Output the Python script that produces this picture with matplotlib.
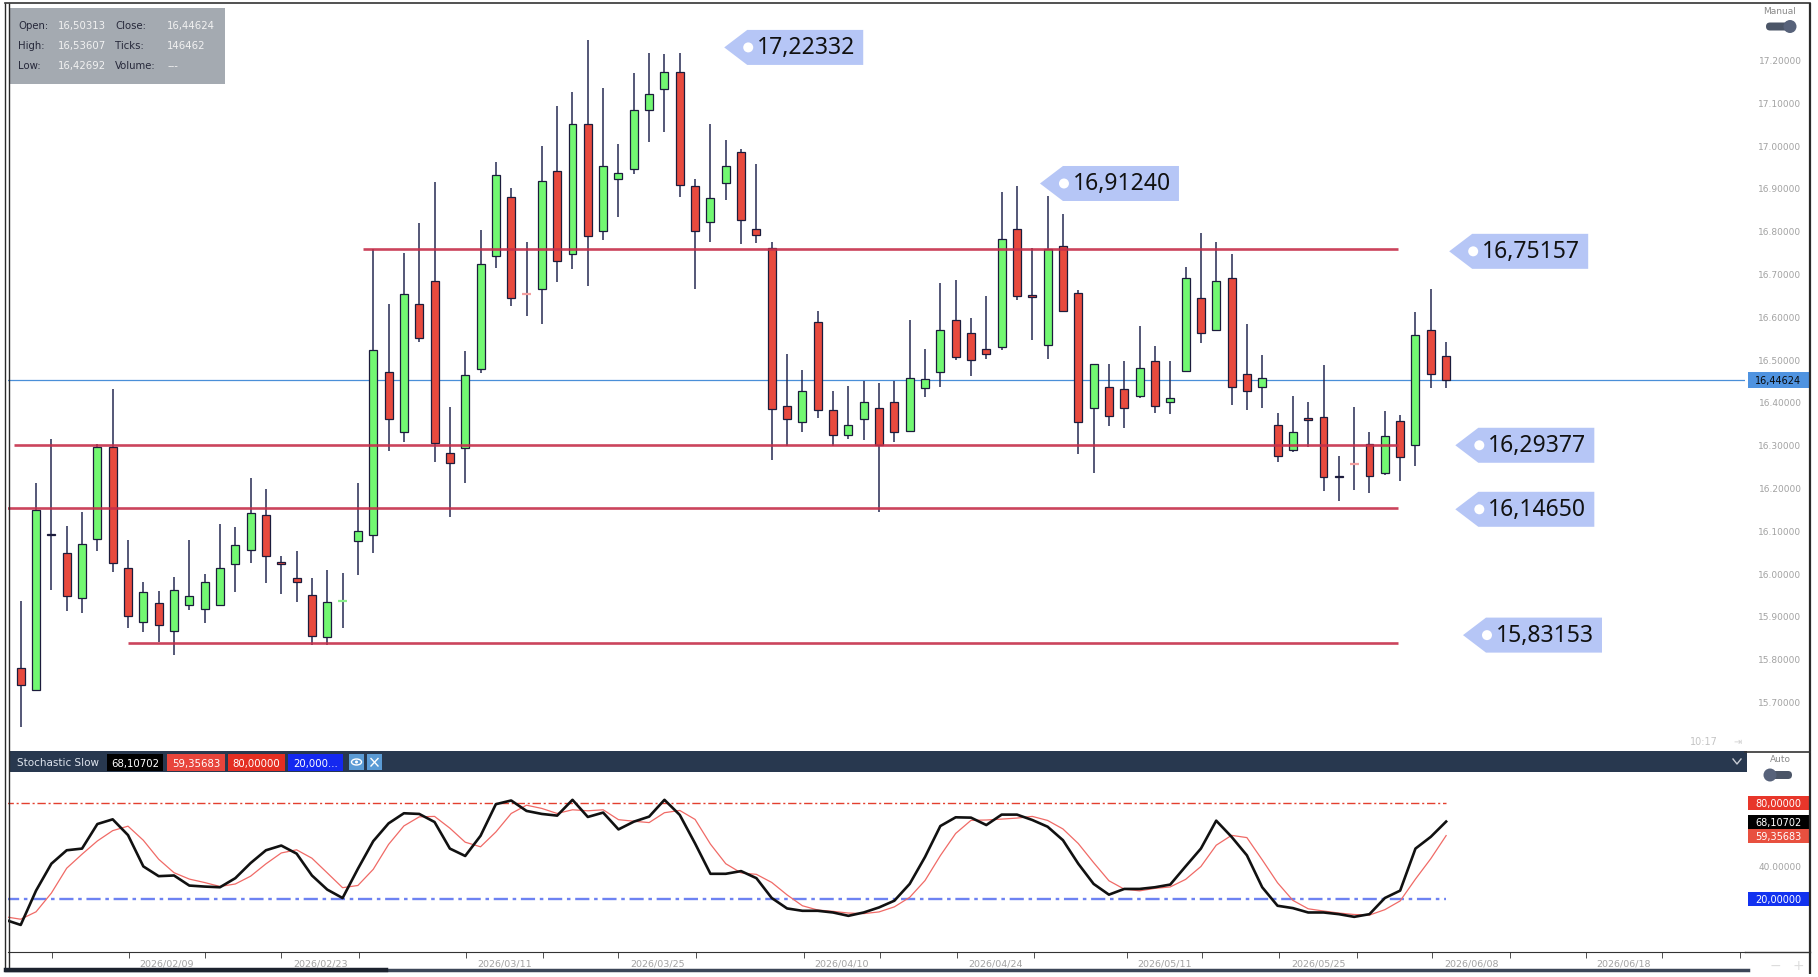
import numpy as np
import matplotlib.pyplot as plt
from matplotlib.patches import Rectangle, Polygon, Ellipse, FancyBboxPatch
from matplotlib.transforms import blended_transform_factory

# ---- daily candles (index 0 .. 93) ----
opens = [15.773, 15.721, 16.086, 16.042, 15.936, 16.074, 16.289, 16.008, 15.880, 15.925,
         15.861, 15.921, 15.912, 15.921, 16.016, 16.048, 16.132, 16.022, 15.984, 15.945,
         15.845, 15.931, 16.069, 16.083, 16.466, 16.324, 16.623, 16.678, 16.275, 16.287,
         16.472, 16.735, 16.875, 16.647, 16.660, 16.934, 16.740, 17.044, 16.794, 16.916,
         16.939, 17.076, 17.127, 17.165, 16.899, 16.815, 16.906, 16.978, 16.799, 16.755,
         16.385, 16.349, 16.582, 16.376, 16.318, 16.354, 16.382, 16.396, 16.326, 16.428,
         16.464, 16.586, 16.555, 16.519, 16.524, 16.800, 16.646, 16.529, 16.759, 16.649,
         16.380, 16.431, 16.425, 16.410, 16.490, 16.396, 16.468, 16.638, 16.562, 16.685,
         16.461, 16.431, 16.340, 16.282, 16.3575, 16.360, 16.2225, 16.250, 16.297, 16.228,
         16.351, 16.294, 16.562, 16.50313]
highs = [15.931, 16.206, 16.308, 16.105, 16.137, 16.296, 16.425, 16.072, 15.974, 15.953,
         15.987, 16.072, 15.993, 16.110, 16.103, 16.217, 16.191, 16.036, 16.047, 15.983,
         16.002, 15.995, 16.206, 16.752, 16.624, 16.742, 16.812, 16.910, 16.384, 16.513,
         16.797, 16.955, 16.896, 16.768, 16.993, 17.087, 17.118, 17.241, 17.128, 16.997,
         17.163, 17.210, 17.209, 17.210, 16.915, 17.044, 17.006, 16.986, 16.950, 16.768,
         16.507, 16.470, 16.607, 16.420, 16.432, 16.445, 16.439, 16.445, 16.587, 16.518,
         16.673, 16.680, 16.592, 16.643, 16.886, 16.900, 16.755, 16.876, 16.834, 16.657,
         16.483, 16.484, 16.490, 16.572, 16.525, 16.491, 16.710, 16.790, 16.769, 16.741,
         16.576, 16.505, 16.370, 16.410, 16.396, 16.482, 16.269, 16.383, 16.325, 16.374,
         16.365, 16.605, 16.659, 16.53607]
lows = [15.636, 15.721, 15.956, 15.907, 15.903, 16.046, 15.997, 15.867, 15.858, 15.833,
        15.804, 15.910, 15.878, 15.920, 15.952, 16.018, 15.972, 15.947, 15.927, 15.826,
        15.828, 15.867, 15.991, 16.042, 16.280, 16.302, 16.534, 16.254, 16.127, 16.205,
        16.463, 16.707, 16.618, 16.595, 16.576, 16.676, 16.706, 16.667, 16.774, 16.826,
        16.927, 17.003, 17.025, 16.875, 16.660, 16.768, 16.867, 16.763, 16.766, 16.259,
        16.291, 16.324, 16.358, 16.293, 16.308, 16.306, 16.139, 16.302, 16.326, 16.407,
        16.431, 16.492, 16.455, 16.495, 16.517, 16.633, 16.539, 16.496, 16.607, 16.274,
        16.228, 16.338, 16.333, 16.405, 16.369, 16.366, 16.468, 16.532, 16.562, 16.389,
        16.377, 16.382, 16.255, 16.277, 16.290, 16.188, 16.164, 16.190, 16.183, 16.224,
        16.210, 16.245, 16.428, 16.42692]
closes = [15.734, 16.143, 16.083, 15.941, 16.062, 16.289, 16.019, 15.896, 15.952, 15.874,
          15.956, 15.941, 15.975, 16.008, 16.060, 16.136, 16.036, 16.016, 15.974, 15.849,
          15.928, 15.9311, 16.093, 16.516, 16.355, 16.647, 16.544, 16.300, 16.252, 16.459,
          16.717, 16.925, 16.637, 16.6469, 16.912, 16.724, 17.044, 16.782, 16.946, 16.930,
          17.078, 17.114, 17.167, 16.903, 16.794, 16.871, 16.946, 16.819, 16.784, 16.379,
          16.355, 16.421, 16.376, 16.318, 16.340, 16.396, 16.294, 16.324, 16.450, 16.448,
          16.562, 16.499, 16.492, 16.507, 16.775, 16.643, 16.640, 16.752, 16.607, 16.349,
          16.483, 16.363, 16.382, 16.475, 16.385, 16.405, 16.685, 16.555, 16.677, 16.430,
          16.421, 16.450, 16.269, 16.324, 16.3535, 16.219, 16.2185, 16.2499, 16.221, 16.315,
          16.266, 16.552, 16.461, 16.44624]

# ---- stochastic slow, starts one bar before the first candle (index -1 .. 93) ----
stoch_k = [6.79, 3.64, 25.04, 41.82, 50.21, 51.26, 66.57, 69.51, 59.65, 40.14,
           34.06, 34.48, 28.19, 27.56, 27.14, 32.80, 42.24, 50.21, 53.15, 48.11,
           34.48, 25.67, 20.42, 38.67, 55.88, 66.99, 73.29, 72.87, 67.83, 51.26,
           46.65, 59.23, 78.95, 81.26, 74.76, 72.87, 71.82, 81.68, 70.98, 73.71,
           63.22, 68.04, 71.19, 81.68, 72.24, 54.41, 35.53, 35.53, 37.21, 32.80,
           20.42, 13.92, 12.45, 12.45, 11.40, 9.31, 11.40, 14.55, 18.75, 29.23,
           46.02, 65.32, 70.77, 70.56, 65.95, 72.45, 72.45, 69.09, 64.90, 56.50,
           41.82, 29.23, 22.52, 26.09, 26.09, 27.14, 28.81, 40.14, 51.26, 68.67,
           58.60, 47.07, 27.14, 15.60, 14.13, 11.40, 11.40, 10.35, 8.68, 10.35,
           20.42, 25.04, 51.26, 58.60, 68.10702]
stoch_d = [8.70, 7.20, 11.82, 23.50, 39.02, 47.76, 56.01, 62.45, 65.24, 56.43,
           44.62, 36.23, 32.24, 30.08, 27.63, 29.17, 34.06, 41.75, 48.53, 50.49,
           45.25, 36.09, 26.86, 28.25, 38.32, 53.85, 65.39, 71.05, 71.33, 63.99,
           55.25, 52.38, 61.61, 73.15, 78.32, 76.30, 73.15, 75.46, 74.83, 75.46,
           69.30, 68.32, 67.48, 73.64, 75.04, 69.44, 54.06, 41.82, 36.09, 35.18,
           30.14, 22.38, 15.60, 12.94, 12.10, 11.05, 10.70, 11.75, 14.90, 20.84,
           31.33, 46.86, 60.70, 68.88, 69.09, 69.65, 70.28, 71.33, 68.81, 63.50,
           54.41, 42.52, 31.19, 25.95, 24.90, 26.44, 27.35, 32.03, 40.07, 53.36,
           59.51, 58.11, 44.27, 29.94, 18.96, 13.71, 12.31, 11.05, 10.14, 9.79,
           13.15, 18.60, 32.24, 44.97, 59.35683]

# ---- drawn levels and price callouts ----
levels = [16.75157, 16.29377, 16.14650, 15.83153]
level_from = [22.3, -0.45, -1.0, 7.0]
level_to = 89.85
callouts = [17.22332, 16.91240, 16.75157, 16.29377, 16.14650, 15.83153]
callout_x = [45.9, 66.5, 93.2, 93.6, 93.6, 94.1]
callout_dy = [0, 3, 2, 0, 1, -8]   # pixel nudges of the callout boxes

price_ticks = [15.7, 15.8, 15.9, 16.0, 16.1, 16.2, 16.3, 16.4, 16.5, 16.6,
               16.7, 16.8, 16.9, 17.0, 17.1, 17.2]
tick_idx = [2.04, 7.07, 12.0, 17.0, 22.1, 29.05, 34.07, 39.0, 44.05, 51.1, 56.05,
            61.1, 66.1, 72.2, 77.1, 82.1, 87.2, 92.1, 97.2, 102.1, 107.1, 112.2]
date_labels = ['2026/02/09', '2026/02/23', '2026/03/11', '2026/03/25', '2026/04/10',
               '2026/04/24', '2026/05/11', '2026/05/25', '2026/06/08', '2026/06/18']

W, H = 1818, 978
UP, DN, EDGE, WICK = '#72f872', '#e84a3e', '#1c1c3c', '#262a52'
GREY = '#a2a2a2'


def frac(l, t, r, b):
    return [l / W, 1 - b / H, (r - l) / W, (b - t) / H]


def fmt(v):
    return f'{v:.5f}'.replace('.', ',')


fig = plt.figure(figsize=(W / 100, H / 100), dpi=100)
fig.patch.set_facecolor('white')

ax = fig.add_axes(frac(8, 4, 1745, 751))
st = fig.add_axes(frac(8, 773, 1745, 953))
xlim = (-0.83, 112.5)
ylim = (15.5818, 17.3271)
ax.set_xlim(*xlim)
ax.set_ylim(*ylim)
ppx = 1737 / (xlim[1] - xlim[0])
ppy = 747 / (ylim[1] - ylim[0])
for s in ax.spines.values():
    s.set_visible(False)
ax.set_xticks([])
ax.set_yticks([])

# candles
for i, (o, h, l, c) in enumerate(zip(opens, highs, lows, closes)):
    ax.vlines(i, l, h, color=WICK, lw=1.1, zorder=2)
    if abs(c - o) < 0.0005:
        ax.hlines(o, i - 0.3, i + 0.3, color='#8af08a' if c > o else '#f3a0a0', lw=1.6, zorder=3)
    else:
        ax.bar(i, abs(c - o), 0.52, bottom=min(o, c), color=UP if c > o else DN,
               edgecolor=EDGE, lw=0.9, zorder=3)

ax.axhline(closes[-1], color='#4a8fd8', lw=0.9, zorder=1)
ax.hlines(levels, level_from, level_to, color='#c62f4a', lw=1.9, alpha=0.9, zorder=4)

# callouts
for p, xt, dy in zip(callouts, callout_x, callout_dy):
    hx = lambda px: px / ppx
    hy = 17.5 / ppy
    yc = p - dy / ppy
    poly = [(xt, yc), (xt + hx(23), yc + hy), (xt + hx(139), yc + hy),
            (xt + hx(139), yc - hy), (xt + hx(23), yc - hy)]
    ax.add_patch(Polygon(poly, closed=True, fc='#b6c6f6', ec='none', zorder=5, clip_on=False))
    ax.add_patch(Ellipse((xt + hx(24), yc), hx(10), 10 / ppy, fc='white', ec='none', zorder=6))
    ax.text(xt + hx(33), yc, fmt(p), fontsize=16.5, family='Noto Sans', color='#111111',
            va='center', ha='left', zorder=7)

# right price scale
tr = blended_transform_factory(ax.transAxes, ax.transData)
for v in price_ticks:
    ax.text((1780 - 8) / 1737, v - 3 / ppy, f'{v:.5f}', transform=tr, fontsize=6.5,
            color=GREY, ha='center', va='center', clip_on=False)
bx0 = (1748 - 8) / 1737
bw = 61 / 1737
ax.add_patch(Rectangle((bx0, closes[-1] - 8 / ppy), bw, 16 / ppy, transform=tr,
                       fc='#4f93e0', ec='none', clip_on=False))
ax.text(bx0 + bw / 2, closes[-1], fmt(closes[-1]), transform=tr, fontsize=7,
        color='#0a0a0a', ha='center', va='center', clip_on=False)

# stochastic panel
sylim = (-13.25, 99.03)
st.set_xlim(*xlim)
st.set_ylim(*sylim)
sppy = 180 / (sylim[1] - sylim[0])
xs = np.arange(-1, len(closes))
st.hlines(80, -1, len(closes) - 1, color='#e3402f', lw=1.0, linestyles=(0, (6, 2, 1.5, 2)))
st.hlines(20, -1, len(closes) - 1, color='#6d82f2', lw=1.7, linestyles=(0, (6, 2, 1.5, 2)))
st.plot(xs, stoch_d, color='#f06a66', lw=0.9)
st.plot(xs, stoch_k, color='#111111', lw=1.9)
for s in ['top', 'left', 'right']:
    st.spines[s].set_visible(False)
st.spines['bottom'].set_color('#333333')
st.set_yticks([])
st.set_xticks(tick_idx, minor=True)
label_pos = [(a + b) / 2 for a, b in zip(tick_idx[1::2], tick_idx[2::2])]
st.set_xticks(label_pos, date_labels)
st.tick_params(axis='x', which='major', length=0, pad=5, labelsize=6.8, labelcolor=GREY)
st.tick_params(axis='x', which='minor', length=4, color='#333333')

str_ = blended_transform_factory(st.transAxes, st.transData)
for v, fc, txt in [(80, '#e8362a', '80,00000'), (stoch_k[-1], '#000000', fmt(stoch_k[-1])),
                   (stoch_d[-1], '#e8503f', fmt(stoch_d[-1])), (20, '#1232f0', '20,00000')]:
    st.add_patch(Rectangle((bx0, v - 7 / sppy), bw, 14 / sppy, transform=str_,
                           fc=fc, ec='none', clip_on=False))
    st.text(bx0 + bw / 2, v, txt, transform=str_, fontsize=7, color='white',
            ha='center', va='center', clip_on=False)
st.text((1780 - 8) / 1737, 40, '40.00000', transform=str_, fontsize=6.5, color=GREY,
        ha='center', va='center', clip_on=False)

# frame, header bar and info box in pixel coordinates
ov = fig.add_axes([0, 0, 1, 1], zorder=10)
ov.set_xlim(0, W)
ov.set_ylim(H, 0)
ov.axis('off')
ov.plot([5, 1810], [4, 4], color='#333333', lw=1.2)
ov.vlines([5, 8.5], 4, 972, color='#2a2a2a', lw=1.0)
ov.vlines(1809.5, 4, 975, color='#2a2a2a', lw=1.6)
ov.plot([1745, 1810], [752.5, 752.5], color='#333333', lw=1.2)
ov.plot([1745, 1810], [953, 953], color='#333333', lw=1.0)
ov.plot([6, 1748], [971, 971], color='#3c4658', lw=2.5)
ov.plot([6, 386], [971, 971], color='#1c222e', lw=3.2)

ov.add_patch(Rectangle((8.5, 752), 1738, 21, fc='#28384f', ec='none'))
ov.text(17, 763, 'Stochastic Slow', fontsize=7.5, color='#dfe5ee', va='center')
badges = [(107, 163, '#000000', fmt(stoch_k[-1])), (167, 225, '#e8453c', fmt(stoch_d[-1])),
          (228, 285, '#e42e22', '80,00000'), (288, 343, '#1428f0', '20,000...')]
for x0, x1, fc, txt in badges:
    ov.add_patch(Rectangle((x0, 755), x1 - x0, 17, fc=fc, ec='none'))
    ov.text((x0 + x1) / 2, 763.5, txt, fontsize=7.3, color='white', ha='center', va='center')
for x0 in (349, 367):
    ov.add_patch(Rectangle((x0, 755), 15, 16, fc='#5b9bd5', ec='none'))
ov.add_patch(Ellipse((356.5, 763), 10, 6, fc='none', ec='white', lw=1))
ov.add_patch(Ellipse((356.5, 763), 3, 3, fc='white', ec='none'))
ov.plot([371, 378], [759.5, 767], color='white', lw=1)
ov.plot([371, 378], [767, 759.5], color='white', lw=1)
ov.plot([1733, 1737, 1741], [760, 765, 760], color='#c8ccd4', lw=1)

ov.add_patch(Rectangle((8.5, 9), 216, 76, fc='#a4aab1', ec='none'))
info = [('Open:', '16,50313', 'Close:', '16,44624'),
        ('High:', '16,53607', 'Ticks:', '146462'),
        ('Low:', '16,42692', 'Volume:', '---')]
for r, (a, b, c, d) in enumerate(info):
    y = 26 + 20 * r
    ov.text(18, y, a, fontsize=7.3, color='#26283a', va='center')
    ov.text(58, y, b, fontsize=7.3, color='#f2f2f2', va='center')
    ov.text(115, y, c, fontsize=7.3, color='#26283a', va='center')
    ov.text(167, y, d, fontsize=7.3, color='#f2f2f2', va='center')

# toggles on the price scale
ov.text(1780, 12, 'Manual', fontsize=6.5, color='#8a8a8a', ha='center', va='center')
ov.add_patch(FancyBboxPatch((1766, 23.5), 26, 8, boxstyle='round,pad=0,rounding_size=4',
                            fc='#4b5567', ec='none'))
ov.add_patch(Ellipse((1790, 27.5), 13, 13, fc='#57627a', ec='none'))
ov.text(1780, 760, 'Auto', fontsize=6.5, color='#8a8a8a', ha='center', va='center')
ov.add_patch(FancyBboxPatch((1766, 772), 26, 8, boxstyle='round,pad=0,rounding_size=4',
                            fc='#4b5567', ec='none'))
ov.add_patch(Ellipse((1770, 776), 13, 13, fc='#57627a', ec='none'))
ov.text(1704, 742, '10:17', fontsize=7, color='#c4c4c4', ha='center', va='center')
ov.text(1738, 742, '⇥', fontsize=7, color='#d0d0d0', ha='center', va='center')
ov.text(1775, 966, '−', fontsize=10, color='#dddddd', ha='center', va='center')
ov.text(1798, 966, '+', fontsize=10, color='#dddddd', ha='center', va='center')

fig.savefig('out.png', dpi=100, facecolor='white')
